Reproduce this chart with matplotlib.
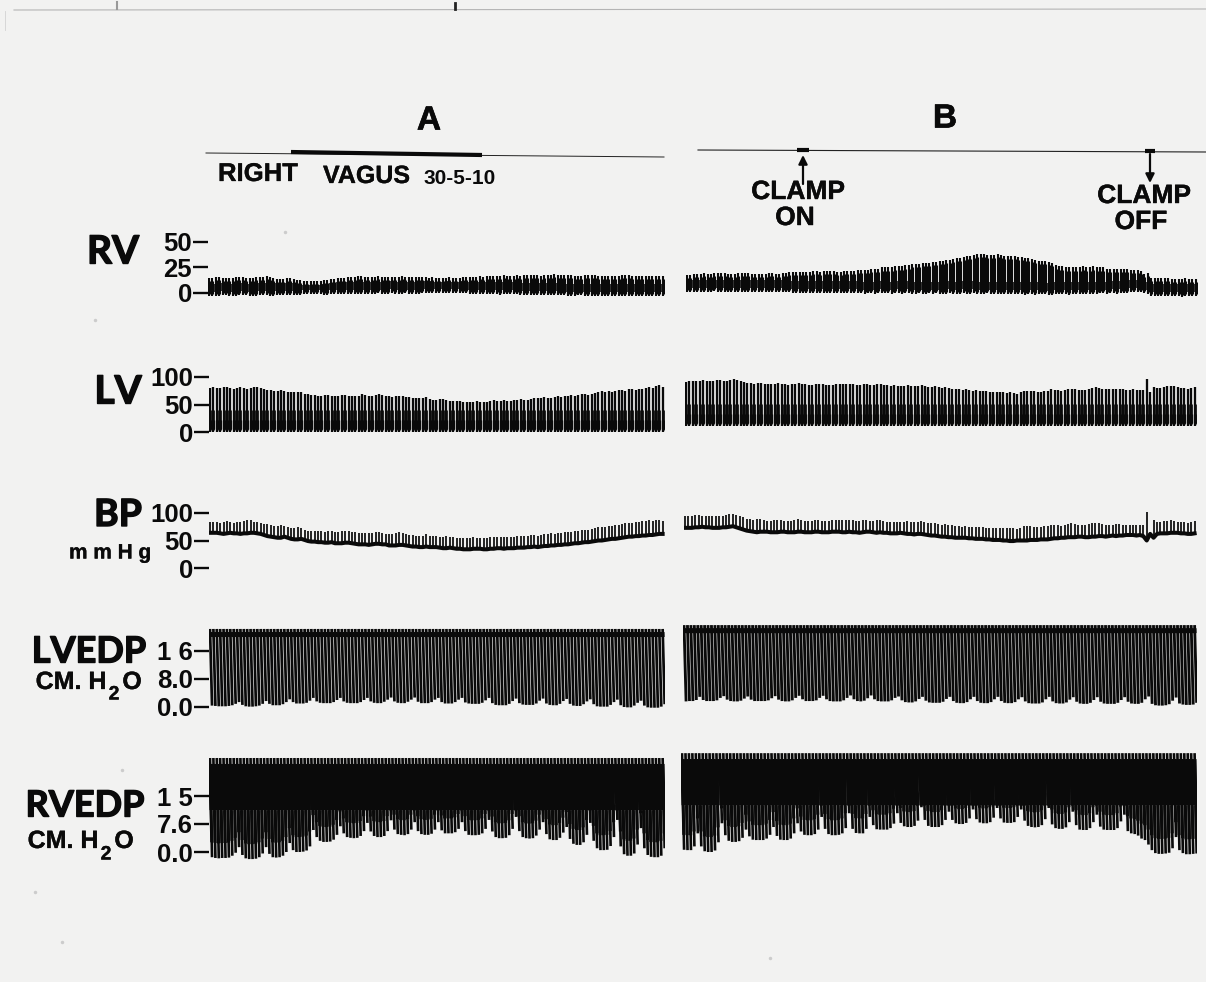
"""Redraw of the two-panel pressure tracing (A: right vagus, B: clamp on/off)."""
import matplotlib

matplotlib.use("Agg")
import matplotlib.pyplot as plt
import matplotlib.patheffects as pe
import numpy as np

W, H = 1206, 982
INK = "#0a0a0a"
PAPER = "#f2f2f1"

plt.rcParams["font.family"] = ["Liberation Sans", "DejaVu Sans"]
plt.rcParams["font.weight"] = "bold"

# one value per heartbeat
RV_A_TOP = [15,15,16,16,15,15,15,15,16,16,16,15,15,15,16,
            16,16,17,16,15,14,14,14,15,15,14,13,13,12,12,
            12,12,12,12,13,13,14,14,15,15,15,16,16,16,17,
            17,16,16,16,16,17,16,16,16,16,16,16,17,16,16,
            16,16,16,16,16,15,16,15,15,15,15,16,15,15,15,
            16,16,16,16,16,17,16,17,17,17,17,17,18,17,17,
            17,18,17,18,18,18,18,18,17,18,18,18,19,18,18,
            18,18,18,17,17,17,18,18,18,18,17,17,17,17,17,
            17,17,18,18,18,17,17,17,17,17,17,17,17,17,17]
RV_A_BOT = [-3,-3,-3,-3,-2,-2,-3,-3,-3,-2,-2,-2,-3,-3,-3,
            -2,-2,-2,-3,-3,-2,-2,-2,-2,-2,-2,-2,-2,-1,-1,
            -1,-1,-1,-1,-2,-2,-1,-1,-1,-1,-1,-1,-1,-1,-1,
            -1,-1,-1,-1,-1,0,-1,-1,-1,0,-1,-1,-1,0,-1,
            -1,-1,-1,0,0,0,0,0,0,0,0,0,0,0,0,
            0,0,-1,-1,-1,-1,-1,-1,-1,-1,-1,-2,-1,-1,-1,
            -1,-1,-2,-2,-2,-2,-2,-2,-2,-2,-2,-2,-2,-2,-2,
            -2,-3,-3,-3,-2,-2,-3,-3,-3,-3,-3,-3,-3,-3,-3,
            -3,-3,-3,-3,-3,-3,-3,-3,-3,-3,-3,-3,-3,-3,-3]
RV_B_TOP = [18,18,19,19,19,20,19,19,20,20,20,20,19,19,19,
            20,20,20,20,19,19,19,19,19,20,20,19,19,20,20,
            21,21,21,21,21,21,21,22,22,21,22,22,22,22,21,
            21,22,22,22,22,23,23,23,23,24,24,24,25,25,25,
            25,26,26,26,27,27,28,28,28,29,29,29,30,30,31,
            31,32,32,33,34,34,35,36,36,37,38,38,38,37,37,
            37,38,37,36,36,36,36,35,35,34,34,33,32,31,31,
            31,30,29,27,26,26,25,25,25,25,25,26,25,25,26,
            25,25,25,24,24,24,24,24,24,24,23,23,23,22,19,
            20,15,15,15,15,15,15,14,14,14,14,15,14,14,14]
RV_B_BOT = [1,1,1,1,1,1,1,1,2,1,1,1,1,1,1,
            1,1,1,1,1,1,1,1,1,1,1,1,1,1,1,
            1,0,0,0,0,0,0,0,0,0,0,0,0,0,0,
            0,0,0,0,0,0,0,-1,0,0,-1,0,0,0,0,
            -1,0,0,-1,0,0,-1,-1,0,-1,-1,0,-1,0,-1,
            -1,-1,0,-1,-1,-1,0,-1,-1,0,-1,-1,-1,0,-1,
            -1,-1,-1,-1,-1,-1,-1,-1,-1,-2,-1,-1,-2,-1,-1,
            -1,-2,-2,-1,-1,-1,-1,-2,-1,-1,-1,-1,-1,-1,-1,
            -1,0,0,-1,0,0,-1,0,0,0,1,1,1,1,0,
            -1,-3,-3,-3,-3,-3,-3,-3,-3,-3,-4,-3,-3,-3,-3]

LV_A_TOP = [80,81,80,80,82,81,80,79,80,81,80,79,80,82,81,
            80,78,77,76,75,75,77,74,73,73,72,73,72,70,69,
            68,68,66,66,67,68,66,65,66,67,68,66,65,65,66,
            69,67,66,66,68,70,68,66,65,64,65,66,66,64,63,
            62,62,61,62,63,60,59,58,60,60,58,57,56,56,57,
            55,55,54,55,56,55,55,54,56,58,57,56,58,57,56,
            58,59,60,58,59,60,62,61,62,64,62,62,64,66,64,
            66,66,68,66,68,70,70,68,70,71,72,74,72,74,73,
            75,76,76,75,78,78,77,79,78,80,82,80,83,85,82]
LV_B_TOP = [91,92,93,92,93,94,93,92,93,94,94,93,93,95,96,
            95,92,91,90,90,88,89,90,88,87,87,88,89,88,87,
            86,87,87,89,88,87,86,86,87,88,87,85,85,86,87,
            88,88,87,88,87,86,86,88,87,86,86,88,87,85,85,
            84,85,84,83,84,85,84,83,83,85,84,82,82,83,81,
            80,81,80,79,78,78,77,78,76,75,76,74,74,74,73,
            73,73,72,72,71,72,71,70,72,74,75,75,74,73,73,
            74,75,78,77,76,75,76,78,79,78,77,76,77,79,80,
            81,80,79,78,78,78,79,79,78,77,77,78,77,77,77,
            96,72,82,80,80,82,83,84,83,81,80,80,79,80,81]
LV_A_BOT = 0
LV_B_BOT = 11

BP_A_TOP = [83,83,84,82,84,85,83,82,83,84,85,88,87,84,83,
            82,80,80,78,76,76,79,76,74,72,73,75,73,70,68,
            67,68,68,68,66,67,68,66,66,67,68,67,66,65,64,
            63,64,63,64,66,65,64,62,62,62,64,65,63,62,60,
            60,59,58,59,61,59,58,58,57,57,58,57,56,55,54,
            54,54,55,56,55,55,54,55,56,57,57,56,56,57,56,
            57,58,58,58,59,60,60,59,60,62,62,63,62,63,64,
            65,66,66,68,67,69,70,70,71,72,74,74,75,76,77,
            78,78,80,81,82,82,84,84,85,85,87,86,87,88,86]
BP_A_BOT = [64,64,64,63,62,63,64,63,63,62,63,63,64,64,63,
            62,60,58,57,56,55,55,57,55,53,52,52,53,51,49,
            48,48,47,47,46,46,47,45,45,45,46,46,45,44,43,
            43,43,42,43,44,44,43,43,41,41,41,42,42,41,40,
            39,39,38,38,39,38,38,38,37,36,36,37,36,35,35,
            34,34,34,35,35,35,34,34,35,35,36,36,35,36,36,
            36,37,37,37,38,38,39,38,39,40,40,41,41,42,42,
            43,43,44,45,45,46,47,47,48,49,50,50,51,52,53,
            53,54,55,56,57,57,58,58,59,59,60,60,61,62,62]
BP_B_TOP = [94,94,94,96,96,95,94,95,94,94,94,94,96,98,98,
            96,94,92,90,90,88,90,90,88,86,85,87,88,87,86,
            86,86,87,89,88,86,86,86,87,88,86,85,86,87,87,
            88,88,87,88,87,86,86,88,87,85,85,88,87,85,84,
            84,84,83,83,84,85,84,83,83,85,84,82,81,82,80,
            79,80,79,78,77,76,75,76,75,74,75,74,74,73,73,
            73,73,72,72,72,73,72,71,73,76,76,76,75,75,75,
            76,77,79,79,78,77,78,80,81,80,79,78,79,80,81,
            82,81,80,79,79,79,80,80,79,78,78,79,79,79,79,
            101,62,88,84,83,85,86,87,86,84,83,83,82,83,85]
BP_B_BOT = [73,73,73,74,74,75,74,74,73,73,73,74,74,75,76,
            74,72,70,68,67,66,65,66,66,66,65,65,65,66,66,
            65,65,65,66,66,65,65,65,66,66,65,65,65,66,66,
            66,65,65,66,65,65,64,65,66,66,65,64,65,64,64,
            63,63,63,64,63,62,62,61,62,62,61,60,59,59,58,
            57,57,56,56,55,55,55,55,54,54,53,53,53,52,52,
            51,51,51,50,50,49,49,50,50,50,50,51,51,51,52,
            52,52,53,54,54,55,55,56,56,56,57,57,56,56,57,
            57,58,58,57,58,59,58,59,59,60,60,60,59,60,58,
            50,62,55,62,63,63,63,64,64,64,63,63,62,62,63]

LVEDP_A_TOP = 22.3
LVEDP_B_TOP = 23.4
LVEDP_A_BOT = [0.4,0.3,0.2,0.2,0.2,0.3,0.5,0.9, 1.4,
               0.6,0.2,0.1,0.1,0.2,0.4,0.9, 1.7,
               0.9,0.5,0.5,0.5,0.8,1.4, 2.2,
               1.4,1.0,1.0,1.0,1.2,1.8, 2.6,
               1.6,1.2,1.1,1.1,1.1,1.4,2.0, 2.6,
               1.6,1.2,1.1,1.1,1.1,1.4,2.0, 2.6,
               1.6,1.2,1.1,1.1,1.5,2.1, 2.7,
               1.6,1.2,1.1,1.1,1.5,2.1, 2.7,
               1.5,1.1,1.1,1.1,1.4,2.1, 2.6,
               1.4,1.0,1.0,1.0,1.4,2.1, 2.6,
               1.3,1.0,0.9,0.9,0.9,1.2,1.9, 2.6,
               1.1,0.6,0.5,0.5,0.5,0.9,1.7, 2.4,
               1.1,0.7,0.6,0.6,0.6,1.0,1.8, 2.4,
               1.0,0.6,0.5,0.5,0.9,1.7, 2.3,
               0.9,0.4,0.3,0.3,0.8,1.6, 2.2,
               0.8,0.2,0.1,0.1,0.1,0.6,1.4, 2.1,
               0.5,0.0,-0.1,-0.1,0.4,1.2, 1.8,
               0.4,-0.1,-0.2,-0.2,-0.2,0.1,0.8]
LVEDP_B_BOT = [1.6,1.7,1.7,2.0, 2.9,
               2.0,1.7,1.7,1.7,1.9,2.6, 3.1,
               2.1,1.7,1.6,1.6,1.8,2.4, 3.0,
               2.1,1.7,1.7,1.7,1.7,1.9,2.5, 3.1,
               2.1,1.7,1.6,1.6,1.9,2.6, 3.2,
               2.2,1.7,1.7,1.7,1.9,2.6, 3.2,
               2.2,1.7,1.6,1.6,1.6,1.9,2.6, 3.3,
               2.2,1.7,1.6,1.8,2.5, 3.3,
               2.2,1.7,1.6,1.6,1.6,1.9,2.6, 3.0,
               1.9,1.4,1.3,1.3,1.6,2.3, 2.9,
               1.8,1.3,1.2,1.2,1.2,1.5,2.3, 2.9,
               1.7,1.2,1.1,1.1,1.4,2.2, 2.9,
               1.7,1.2,1.1,1.1,1.4,2.2, 2.9,
               1.7,1.2,1.1,1.1,1.4,2.2, 2.8,
               1.6,1.1,1.0,1.0,1.0,1.3,2.2, 2.9,
               1.6,1.1,1.0,1.0,1.3,2.1, 2.8,
               1.5,1.0,0.9,0.9,1.2,2.0, 2.8,
               1.5,1.0,0.9,0.9,0.9,1.2,2.0, 2.8,
               1.5,1.0,0.9,0.9,1.2,2.2, 3.0,
               0.9,0.5,0.4,0.4,0.5,0.8,1.8, 2.7,
               1.0,0.7,0.6,0.6,0.7,1.2]

RVEDP_A_TOP = 25.2
RVEDP_B_TOP = 26.5
RVEDP_A_BOT = [-1.4,-1.6,-1.7,-1.6,-1.6,-1.5,-1.0,-0.2, 1.3,
               -0.8,-1.7,-1.9,-1.9,-1.8,-1.4,-0.4, 1.3,
               -0.5,-1.4,-1.5,-1.4,-1.0,0.0, 2.4,
               0.5,0.0,0.0,0.1,0.4,1.5, 5.9,
               4.0,3.0,2.7,2.7,2.8,3.3,4.6, 6.9,
               5.0,4.0,3.8,3.7,3.8,4.3,5.6, 7.8,
               5.5,4.3,4.0,4.0,4.3,5.6, 8.5,
               6.0,4.8,4.6,4.5,4.8,6.0, 8.0,
               5.6,4.8,4.6,4.6,4.9,6.0, 8.0,
               5.8,5.0,5.0,5.0,5.3,6.2, 8.0,
               5.6,4.6,4.5,4.5,4.6,5.0,6.2, 8.6,
               5.5,4.0,3.7,3.7,3.8,4.5,6.2, 9.4,
               5.6,4.0,3.7,3.6,3.7,4.4,6.0, 8.0,
               4.8,3.4,3.2,3.2,3.8,5.2, 6.7,
               3.5,2.2,1.9,1.9,2.6,4.6, 7.8,
               3.0,1.0,0.5,0.5,0.6,1.6,4.0, 8.6,
               1.5,-0.6,-1.0,-1.0,-0.4,2.0, 6.4,
               1.0,-0.8,-1.3,-1.4,-1.4,-1.0,1.0]
RVEDP_B_BOT = [0.6,0.5,0.5,1.5, 5.0,
               1.5,0.2,0.0,0.0,0.4,2.6, 7.7,
               4.5,3.0,2.7,2.7,2.9,3.8, 6.0,
               4.2,3.3,3.2,3.2,3.2,3.6,4.6, 6.7,
               4.3,3.3,3.2,3.2,3.6,5.0, 7.7,
               5.5,4.6,4.5,4.5,4.8,6.0, 9.4,
               6.2,4.8,4.5,4.5,4.6,5.0,6.4, 10.4,
               6.2,5.1,5.0,5.0,6.2, 9.4,
               7.2,6.1,6.0,6.0,6.0,6.4,7.6, 10.4,
               7.8,6.9,6.7,6.7,7.0,8.4, 12.0,
               8.6,7.0,6.7,6.7,6.7,7.2,8.6, 10.8,
               8.6,7.7,7.5,7.5,7.8,9.0, 11.4,
               8.8,7.9,7.7,7.7,8.0,9.2, 11.8,
               9.0,7.9,7.8,7.8,8.0,9.4, 11.4,
               8.4,7.0,6.7,6.6,6.7,7.2,8.8, 11.8,
               7.4,6.4,6.2,6.2,6.6,8.0, 10.8,
               7.2,6.0,5.9,5.9,6.4,8.0, 10.0,
               6.8,6.0,5.9,5.9,5.9,6.4,8.2, 10.0,
               5.6,5.0,4.8,4.4,3.6,3.2, 2.0,
               0.5,-0.3,-0.5,-0.5,-0.4,-0.2,1.0, 4.0,
               0.5,-0.3,-0.6,-0.6,-0.5,-0.4]

RV_TICKS, RV_LABELS = [0, 25, 50], ["0", "25", "50"]
LV_TICKS, LV_LABELS = [0, 50, 100], ["0", "50", "100"]
BP_TICKS, BP_LABELS = [0, 50, 100], ["0", "50", "100"]
LVEDP_TICKS, LVEDP_LABELS = [0, 8, 16], ["0.0", "8.0", "1 6"]
RVEDP_TICKS, RVEDP_LABELS = [0, 7.6, 15], ["0.0", "7.6", "1 5"]
SMUDGES_X = [95, 122, 35, 62, 770, 285, 1180]
SMUDGES_Y = [320, 770, 892, 942, 958, 232, 190]


def strip_axes(fig, x0, x1, zero_px, px_per_unit):
    """Axes whose y scale puts value 0 at pixel row zero_px."""
    top_px, bot_px = zero_px - 100, zero_px + 25
    ax = fig.add_axes([x0 / W, 1 - bot_px / H, (x1 - x0) / W, (bot_px - top_px) / H])
    ax.set_ylim(-(bot_px - zero_px) / px_per_unit, (zero_px - top_px) / px_per_unit)
    ax.patch.set_alpha(0)
    for spine in ax.spines.values():
        spine.set_visible(False)
    ax.set_xticks([])
    ax.set_yticks([])
    return ax


def as_array(v, n):
    return np.full(n, v, float) if np.ndim(v) == 0 else np.array(v, float)[:n]


def strokes(ax, x_hi, y_hi, x_lo, y_lo, lw):
    """One separate pen stroke per beat (NaN breaks the line between beats)."""
    gap = np.full(len(x_hi), np.nan)
    x = np.column_stack([x_hi, x_lo, gap]).ravel()
    y = np.column_stack([y_hi, y_lo, gap]).ravel()
    ax.plot(x, y, color=INK, lw=lw, solid_capstyle="butt")


def draw_beats(ax, top, bottom, lw, bands, slant=0.0):
    """Beat strokes from top to bottom, inked heavier inside each band range."""
    n = len(top) if np.ndim(top) else len(bottom)
    top, bottom = as_array(top, n), as_array(bottom, n)
    beat = np.arange(n)
    along = lambda y: beat + slant * (top - y) / (top - bottom)
    strokes(ax, beat, top, beat + slant, bottom, lw)
    for band, band_lw in bands:
        lo, hi = band(bottom, top)
        strokes(ax, along(hi), hi, along(lo), lo, band_lw)
    ax.set_xlim(-0.3, n - 0.3)


def draw_bp(ax, top, bottom):
    ax.vlines(np.arange(len(top)), bottom, top, color=INK, lw=1.25)
    ax.plot(bottom, color=INK, lw=2.9)
    ax.set_xlim(-0.3, len(top) - 0.3)


def y_scale(ax, ticks, labels):
    ax.set_yticks(ticks, labels)
    ax.tick_params(axis="y", length=10.5, width=1.7, pad=1, labelsize=18.5, colors=INK)


def put(ov, x, y, s, size, fat=0.0, family=None, **kw):
    t = ov.text(x, y, s, fontsize=size, color=INK, ha=kw.pop("ha", "center"),
                va="center", fontweight="bold", **kw)
    if family:
        t.set_family(family)
    if fat:
        t.set_path_effects([pe.withStroke(linewidth=fat, foreground=INK)])
    return t


# heavier ink where the pen passes repeatedly: (range of the stroke, line width)
RV_BANDS = [(lambda b, t: (b + 2, t - 3), 2.2), (lambda b, t: (b + 4, np.minimum(b + 12, t - 4)), 2.6)]
LV_BANDS = [(lambda b, t: (b + 3, np.minimum(b + 40, t - 4)), 1.95), (lambda b, t: (b + 5, b + 22), 2.3)]
LVEDP_BANDS = [(lambda b, t: (t - 2.3, t - 0.9), 2.6)]
RVEDP_BANDS = [(lambda b, t: (b + 4, t - 14), 2.2), (lambda b, t: (t - 14, t - 1.6), 2.6)]

fig = plt.figure(figsize=(W / 100, H / 100), dpi=100, facecolor=PAPER)

ax = strip_axes(fig, 208, 665, 293, 1.02)
draw_beats(ax, RV_A_TOP, RV_A_BOT, 1.5, RV_BANDS)
y_scale(ax, RV_TICKS, RV_LABELS)
ax = strip_axes(fig, 686, 1198, 293, 1.02)
draw_beats(ax, RV_B_TOP, RV_B_BOT, 1.5, RV_BANDS)

ax = strip_axes(fig, 209, 665, 432, 0.55)
draw_beats(ax, LV_A_TOP, LV_A_BOT, 1.65, LV_BANDS)
y_scale(ax, LV_TICKS, LV_LABELS)
ax = strip_axes(fig, 685, 1197, 432, 0.55)
draw_beats(ax, LV_B_TOP, LV_B_BOT, 1.65, LV_BANDS)

ax = strip_axes(fig, 209, 665, 568, 0.55)
draw_bp(ax, BP_A_TOP, BP_A_BOT)
y_scale(ax, BP_TICKS, BP_LABELS)
ax = strip_axes(fig, 684, 1197, 568, 0.55)
draw_bp(ax, BP_B_TOP, BP_B_BOT)

ax = strip_axes(fig, 209, 665, 707, 3.5)
draw_beats(ax, LVEDP_A_TOP, LVEDP_A_BOT, 1.95, LVEDP_BANDS, slant=0.6)
y_scale(ax, LVEDP_TICKS, LVEDP_LABELS)
ax = strip_axes(fig, 683, 1197, 707, 3.5)
draw_beats(ax, LVEDP_B_TOP, LVEDP_B_BOT, 2.05, LVEDP_BANDS, slant=0.6)

ax = strip_axes(fig, 209, 665, 852, 3.73)
draw_beats(ax, RVEDP_A_TOP, RVEDP_A_BOT, 1.9, RVEDP_BANDS, slant=0.6)
y_scale(ax, RVEDP_TICKS, RVEDP_LABELS)
ax = strip_axes(fig, 681, 1197, 852, 3.73)
draw_beats(ax, RVEDP_B_TOP, RVEDP_B_BOT, 1.9, RVEDP_BANDS, slant=0.6)

# overlay in picture coordinates for the lettering and event marks
ov = fig.add_axes([0, 0, 1, 1], zorder=5)
ov.set_xlim(0, W)
ov.set_ylim(H, 0)
ov.axis("off")
ov.patch.set_alpha(0)

ov.plot([14, W], [10, 9], color="#b4b4b4", lw=0.8)
ov.plot([5, 5], [11, 30], color="#d2d2d2", lw=0.6)
ov.plot([455, 455], [3, 9], color="#222222", lw=2)
ov.plot([117, 117], [2, 9], color="#999999", lw=1.5)
ov.plot(SMUDGES_X, SMUDGES_Y, ls="none", marker="o", ms=2.5, mfc="#cccccc", mec="none")

put(ov, 429, 121, "A", 24, fat=0.5)
put(ov, 945, 119, "B", 24, fat=0.5)
ov.plot([206, 664], [153, 157], color="#222222", lw=0.7)
ov.plot([291, 482], [152, 155], color=INK, lw=3, solid_capstyle="butt")
put(ov, 218, 174, "RIGHT", 18.5, ha="left", fat=0.2)
put(ov, 323, 176, "VAGUS", 18, ha="left", fat=0.2)
put(ov, 424, 178, "30-5-10", 15, ha="left")

ov.plot([698, W], [150, 152], color="#222222", lw=0.8)
ov.plot([797, 809], [150, 150], color=INK, lw=3, solid_capstyle="butt")
ov.plot([1145, 1155], [151, 151], color=INK, lw=3, solid_capstyle="butt")
ov.annotate("", xy=(803, 155), xytext=(803, 184),
            arrowprops=dict(arrowstyle="-|>", color=INK, lw=1.6, mutation_scale=13, shrinkA=0, shrinkB=0))
ov.annotate("", xy=(1150, 183), xytext=(1150, 154),
            arrowprops=dict(arrowstyle="-|>", color=INK, lw=1.6, mutation_scale=13, shrinkA=0, shrinkB=0))
put(ov, 798, 192, "CLAMP", 19, fat=0.3)
put(ov, 795, 218, "ON", 19, fat=0.3)
put(ov, 1144, 196, "CLAMP", 19, fat=0.3)
put(ov, 1141, 222, "OFF", 19, fat=0.3)

heavy = ["Lato", "Liberation Sans"]
put(ov, 113, 252, "RV", 28, fat=1.0, family=heavy)
put(ov, 118, 392, "LV", 28, fat=1.0, family=heavy)
put(ov, 118, 515, "BP", 27, fat=1.0, family=heavy)
put(ov, 110, 553, "m m H g", 15, fat=0.2)
put(ov, 89, 652, "LVEDP", 26, fat=1.0, family=heavy)
put(ov, 85, 806, "RVEDP", 26, fat=1.0, family=heavy)
put(ov, 71, 682, "CM. H", 18, fat=0.2)
put(ov, 114, 695, "2", 14, fat=0.2)
put(ov, 132, 682, "O", 18, fat=0.2)
put(ov, 63, 841, "CM. H", 18, fat=0.2)
put(ov, 106, 855, "2", 14, fat=0.2)
put(ov, 124, 841, "O", 18, fat=0.2)

fig.savefig("out.png", dpi=100, facecolor=PAPER)
